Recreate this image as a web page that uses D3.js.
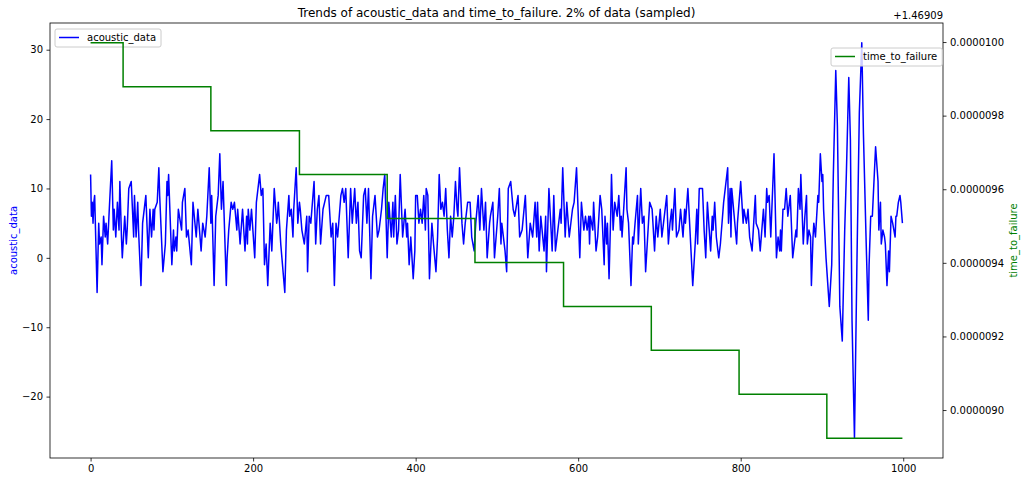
<!DOCTYPE html>
<html><head><meta charset="utf-8">
<script src="https://cdn.jsdelivr.net/npm/d3@7"></script>
<style>body{margin:0;background:#fff} text{font-family:"DejaVu Sans",sans-serif}</style>
</head><body><svg id="c" width="1025" height="482"></svg>
<script>
const acousticIdx = [0,1,2,3,4,5,8,10,11,13,14,16,18,19,21,23,26,28,29,31,33,35,36,38,39,42,44,45,47,50,53,54,56,58,59,62,64,68,71,73,75,77,78,79,82,84,85,89,92,94,95,96,100,102,103,105,106,108,112,113,116,118,120,124,
126,130,132,136,138,141,143,146,148,149,152,154,157,159,161,163,167,168,170,173,175,177,180,181,184,187,190,192,193,194,196,198,202,204,208,210,212,214,216,218,221,223,226,229,230,231,234,239,241,244,245,247,
249,250,253,255,257,258,260,263,266,267,269,271,275,277,279,281,283,286,288,290,293,294,296,298,300,302,304,306,308,310,312,314,317,320,322,325,327,329,331,333,335,336,338,340,342,345,347,350,353,355,357,358,360,362,365,367,370,372,
373,375,377,379,381,384,387,389,390,392,394,397,399,400,402,404,406,408,410,412,413,415,417,420,422,425,427,429,431,433,435,437,439,441,443,445,447,449,451,452,454,457,459,461,464,467,469,472,474,477,479,481,484,486,488,491,492,495,497,
501,503,505,506,510,512,514,517,520,522,526,528,531,535,538,541,544,547,549,550,552,554,558,560,561,564,568,570,572,574,578,579,581,584,586,589,593,595,598,602,604,607,609,611,613,614,615,618,619,622,624,627,
629,632,633,635,636,638,640,641,643,645,648,650,652,653,654,659,660,662,665,667,668,670,673,674,677,679,681,683,686,688,691,694,696,698,701,703,705,709,711,713,715,716,719,721,724,726,729,731,732,735,738,741,744,746,747,749,753,
755,757,759,763,765,766,768,770,773,775,779,784,785,787,788,789,795,796,800,803,804,807,809,811,814,818,819,822,824,828,830,832,833,835,837,841,844,846,848,849,850,852,854,856,858,861,864,868,869,871,873,874,877,879,
881,882,884,886,887,889,890,892,895,896,898,900,901,902,905,909,912,914,917,919,922,925,928,930,933,935,937,940,943,946,949,951,954,957,958,960,962,964,966,969,970,972,973,975,977,978,980,982,983,985,987,990,991,992,994,996,997,999];
const acousticVal = [12,6,8,5,8,9,-5,5,2,3,-1,6,3,5,2,7,14,4,7,3,8,4,11,3,0,6,2,4,10,11,3,9,3,8,4,-4,5,9,0,7,3,7,4,7,8,13,9,-2,2,11,9,12,-1,4,1,3,1,7,4,8,10,3,4,-1,
8,3,7,1,5,3,6,13,5,9,-4,6,9,15,7,11,-4,0,4,8,7,8,4,7,2,7,1,6,2,7,4,7,0,8,12,9,10,-1,2,-4,5,1,10,5,6,8,2,-5,4,9,6,7,
3,7,13,5,8,7,4,2,6,-2,6,5,11,2,7,9,2,7,8,9,9,7,3,5,-4,5,3,6,9,10,8,10,0,10,5,10,5,8,1,0,6,9,10,5,10,-3,6,9,3,4,6,7,10,12,0,8,3,8,
3,9,2,4,12,3,7,3,5,-1,3,-3,1,9,9,5,7,5,9,4,10,9,-3,5,2,-2,3,12,7,8,6,10,4,0,6,3,6,11,7,6,13,5,2,5,8,8,3,1,5,9,4,10,4,8,0,5,6,8,0,
6,10,2,5,1,-2,10,11,7,6,9,3,4,9,0,5,3,8,3,8,1,6,1,6,-2,10,1,9,1,3,7,5,13,3,8,3,7,8,13,0,8,4,6,4,6,2,6,4,8,1,3,9,
7,-1,6,2,5,-3,6,12,4,8,6,9,4,6,3,13,7,5,-4,3,2,5,9,2,10,5,6,-2,4,8,7,1,6,3,7,3,5,9,2,5,7,4,10,3,4,7,3,7,5,10,3,-4,2,7,2,10,10,
4,0,8,1,6,4,8,3,0,2,8,13,5,10,3,10,2,5,11,5,7,5,7,3,1,9,5,4,1,7,3,10,8,9,3,15,0,3,1,4,1,7,7,10,6,9,0,4,3,10,7,12,2,6,
9,2,4,3,-4,3,5,3,9,8,15,11,12,7,0,-7,-1,12,27,19,-7,-12,4,12,26,17,-9,-26,-1,21,31,18,4,-9,-1,6,6,11,16,11,4,8,2,4,3,2,-4,1,-2,6,5,3,6,6,8,9,8,5];
const ttfStart = [0,40,148,257,365,473,582,690,798,906];
const ttfValues = [1.4690999980,1.4690998786,1.4690997592,1.4690996398,1.4690995204,1.4690994010,1.4690992816,1.4690991622,1.4690990428,1.4690989234];
const ttfEndIdx = 999;
const xTicks = [0,200,400,600,800,1000];
const yLeftTicks = [-20,-10,0,10,20,30];
const ttfOffset = 1.46909;
const yRightTickOffsets = [0.0000090,0.0000092,0.0000094,0.0000096,0.0000098,0.0000100];
const titleText = "Trends of acoustic_data and time_to_failure. 2% of data (sampled)";
const blueName = "acoustic_data", greenName = "time_to_failure";

const L=50,T=23,R=943,B=458;
const svg=d3.select("#c");
const pad=e=>{const r=e[1]-e[0];return [e[0]-0.05*r,e[1]+0.05*r];};
const x=d3.scaleLinear().domain(pad([0,ttfEndIdx])).range([L,R]);
const yL=d3.scaleLinear().domain(pad(d3.extent(acousticVal))).range([B,T]);
const yR=d3.scaleLinear().domain(pad(d3.extent(ttfValues))).range([B,T]);
const minus=s=>String(s).replace("-","\u2212");

const blueData=acousticIdx.map((d,i)=>[d,acousticVal[i]]);
const greenData=ttfStart.map((d,i)=>[d,ttfValues[i]]).concat([[ttfEndIdx,ttfValues[ttfValues.length-1]]]);

svg.append("path").datum(blueData)
  .attr("d",d3.line().x(d=>x(d[0])).y(d=>yL(d[1])))
  .attr("fill","none").attr("stroke","#0000ff").attr("stroke-width",1.5).attr("stroke-linejoin","round");

function legend(gx,gy,color,label){
  const g=svg.append("g");
  const rect=g.append("rect").attr("x",gx).attr("y",gy).attr("height",18).attr("rx",2)
    .attr("fill","#fff").attr("fill-opacity",0.8).attr("stroke","#cccccc").attr("stroke-width",1);
  g.append("line").attr("x1",gx+4).attr("x2",gx+24).attr("y1",gy+8.5).attr("y2",gy+8.5)
    .attr("stroke",color).attr("stroke-width",1.5);
  const t=g.append("text").attr("x",gx+32).attr("y",gy+12).attr("font-size",10).attr("fill","#000").text(label);
  const w=t.node().getComputedTextLength();
  rect.attr("width",32+w+5);
}
legend(55,29,"#0000ff",blueName);

svg.append("path").datum(greenData)
  .attr("d",d3.line().curve(d3.curveStepAfter).x(d=>x(d[0])).y(d=>yR(d[1])))
  .attr("fill","none").attr("stroke","#008000").attr("stroke-width",1.5);

// axes
const ax=(g)=>{g.select(".domain").remove();g.selectAll("line").attr("stroke","#000").attr("stroke-width",0.8);
  g.selectAll("text").attr("font-family","DejaVu Sans").attr("font-size",10).attr("fill","#000");};
svg.append("g").attr("transform",`translate(0,${B})`)
  .call(d3.axisBottom(x).tickValues(xTicks).tickSize(3.5).tickPadding(3.5).tickFormat(d=>minus(d))).call(ax);
svg.append("g").attr("transform",`translate(${L},0)`)
  .call(d3.axisLeft(yL).tickValues(yLeftTicks).tickSize(3.5).tickPadding(3.5).tickFormat(d=>minus(d))).call(ax);
svg.append("g").attr("transform",`translate(${R},0)`)
  .call(d3.axisRight(yR).tickValues(yRightTickOffsets.map(o=>ttfOffset+o)).tickSize(3.5).tickPadding(3.5)
    .tickFormat((d,i)=>yRightTickOffsets[i].toFixed(7))).call(ax);

svg.append("rect").attr("x",L).attr("y",T).attr("width",R-L).attr("height",B-T)
  .attr("fill","none").attr("stroke","#000").attr("stroke-width",0.8);

legend(831,48,"#008000",greenName);

svg.append("text").attr("x",(L+R)/2).attr("y",17).attr("text-anchor","middle").attr("font-size",12).attr("fill","#000").text(titleText);
svg.append("text").attr("x",R).attr("y",18.5).attr("text-anchor","end").attr("font-size",10).attr("fill","#000").text("+"+ttfOffset);
svg.append("text").attr("transform",`translate(17,${(T+B)/2}) rotate(-90)`).attr("text-anchor","middle")
  .attr("font-size",10).attr("fill","#0000ff").text(blueName);
svg.append("text").attr("transform",`translate(1017,${(T+B)/2}) rotate(-90)`).attr("text-anchor","middle")
  .attr("font-size",10).attr("fill","#008000").text(greenName);
</script></body></html>
